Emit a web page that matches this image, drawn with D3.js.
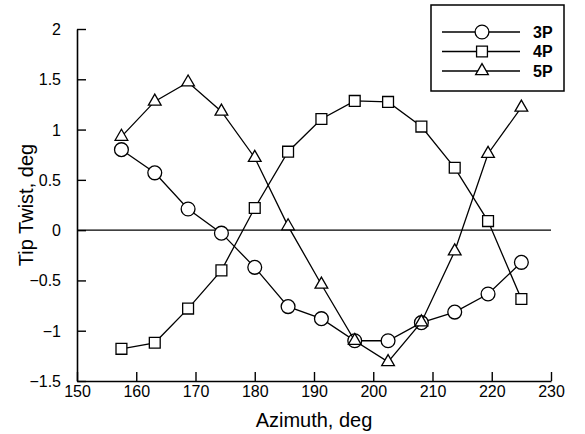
<!DOCTYPE html>
<html>
<head>
<meta charset="utf-8">
<script src="https://cdn.jsdelivr.net/npm/d3@7"></script>
<style>
  html, body { margin: 0; padding: 0; background: #fff; }
  svg { display: block; font-family: Arial, "Liberation Sans", Helvetica, sans-serif; }
</style>
</head>
<body>
<svg id="chart" width="585" height="434"></svg>
<script>
// Azimuth stations (deg) and tip twist (deg) for each harmonic input
const azimuth = [157.5, 163.125, 168.75, 174.375, 180, 185.625, 191.25, 196.875, 202.5, 208.125, 213.75, 219.375, 225];
const twist3P = [0.80, 0.57, 0.21, -0.03, -0.37, -0.76, -0.88, -1.10, -1.10, -0.92, -0.815, -0.635, -0.32];
const twist4P = [-1.18, -1.12, -0.78, -0.40, 0.22, 0.78, 1.105, 1.285, 1.275, 1.03, 0.62, 0.09, -0.685];
const twist5P = [0.93, 1.28, 1.47, 1.18, 0.72, 0.04, -0.54, -1.10, -1.31, -0.915, -0.21, 0.76, 1.22];

const seriesNames = ["3P", "4P", "5P"];
const xTicks = [150, 160, 170, 180, 190, 200, 210, 220, 230];
const yTicks = [-1.5, -1, -0.5, 0, 0.5, 1, 1.5, 2];

const series = [
  { name: seriesNames[0], values: twist3P, symbol: d3.symbolCircle, size: 150 },
  { name: seriesNames[1], values: twist4P, symbol: d3.symbolSquare, size: 118 },
  { name: seriesNames[2], values: twist5P, symbol: d3.symbolTriangle, size: 70 }
];

const svg = d3.select("#chart");
const plot = { left: 77, right: 551, top: 29, bottom: 381 };

const x = d3.scaleLinear().domain([150, 230]).range([plot.left, plot.right]);
const y = d3.scaleLinear().domain([-1.5, 2]).range([plot.bottom, plot.top]);

const ink = "#000";

// Axes with inward ticks
const xAxis = d3.axisBottom(x).tickValues(xTicks).tickSize(-9).tickSizeOuter(0).tickFormat(d3.format("d"));
const yAxis = d3.axisLeft(y).tickValues(yTicks).tickSize(-9).tickPadding(16).tickSizeOuter(0).tickFormat(d => d3.format("")(d));

const gx = svg.append("g").attr("transform", `translate(0,${plot.bottom})`).call(xAxis);
const gy = svg.append("g").attr("transform", `translate(${plot.left},0)`).call(yAxis);

[gx, gy].forEach(g => {
  g.select(".domain").attr("stroke", ink).attr("stroke-width", 1.6);
  g.selectAll(".tick line").attr("stroke", ink).attr("stroke-width", 1.4);
  g.selectAll(".tick text").attr("fill", ink).attr("font-size", 16);
});
gy.selectAll(".tick text").attr("dy", "0.34em");
gx.selectAll(".tick text").attr("dy", "0.71em").attr("y", 5);

// Zero reference line
svg.append("line")
  .attr("x1", x(150)).attr("x2", x(230))
  .attr("y1", y(0)).attr("y2", y(0))
  .attr("stroke", ink).attr("stroke-width", 1.3);

// Axis titles
svg.append("text")
  .attr("x", (plot.left + plot.right) / 2).attr("y", 427)
  .attr("text-anchor", "middle").attr("font-size", 20).attr("fill", ink)
  .text("Azimuth, deg");

svg.append("text")
  .attr("transform", `translate(33,${(plot.top + plot.bottom) / 2}) rotate(-90)`)
  .attr("text-anchor", "middle").attr("font-size", 20).attr("fill", ink)
  .text("Tip Twist, deg");

// Series lines and markers
const line = d3.line().x((d, i) => x(azimuth[i])).y(d => y(d));

series.forEach(s => {
  const g = svg.append("g");
  g.append("path")
    .attr("d", line(s.values))
    .attr("fill", "none").attr("stroke", ink).attr("stroke-width", 1.3);
  g.selectAll("path.mark")
    .data(s.values)
    .join("path")
    .attr("class", "mark")
    .attr("transform", (d, i) => `translate(${x(azimuth[i])},${y(d)})`)
    .attr("d", d3.symbol().type(s.symbol).size(s.size))
    .attr("fill", "#fff").attr("stroke", ink).attr("stroke-width", 1.3);
});

// Legend
const legend = svg.append("g");
legend.append("rect")
  .attr("x", 431).attr("y", 5).attr("width", 133).attr("height", 86)
  .attr("fill", "#fff").attr("stroke", ink).attr("stroke-width", 1.5);

series.forEach((s, i) => {
  const ly = 32 + i * 19.5;
  legend.append("line")
    .attr("x1", 442).attr("x2", 520).attr("y1", ly).attr("y2", ly)
    .attr("stroke", ink).attr("stroke-width", 1.3);
  legend.append("path")
    .attr("transform", `translate(482,${ly})`)
    .attr("d", d3.symbol().type(s.symbol).size(s.size))
    .attr("fill", "#fff").attr("stroke", ink).attr("stroke-width", 1.3);
  legend.append("text")
    .attr("x", 533).attr("y", ly).attr("dy", "0.36em")
    .attr("font-size", 16).attr("font-weight", "bold").attr("fill", ink)
    .text(s.name);
});
</script>
</body>
</html>
